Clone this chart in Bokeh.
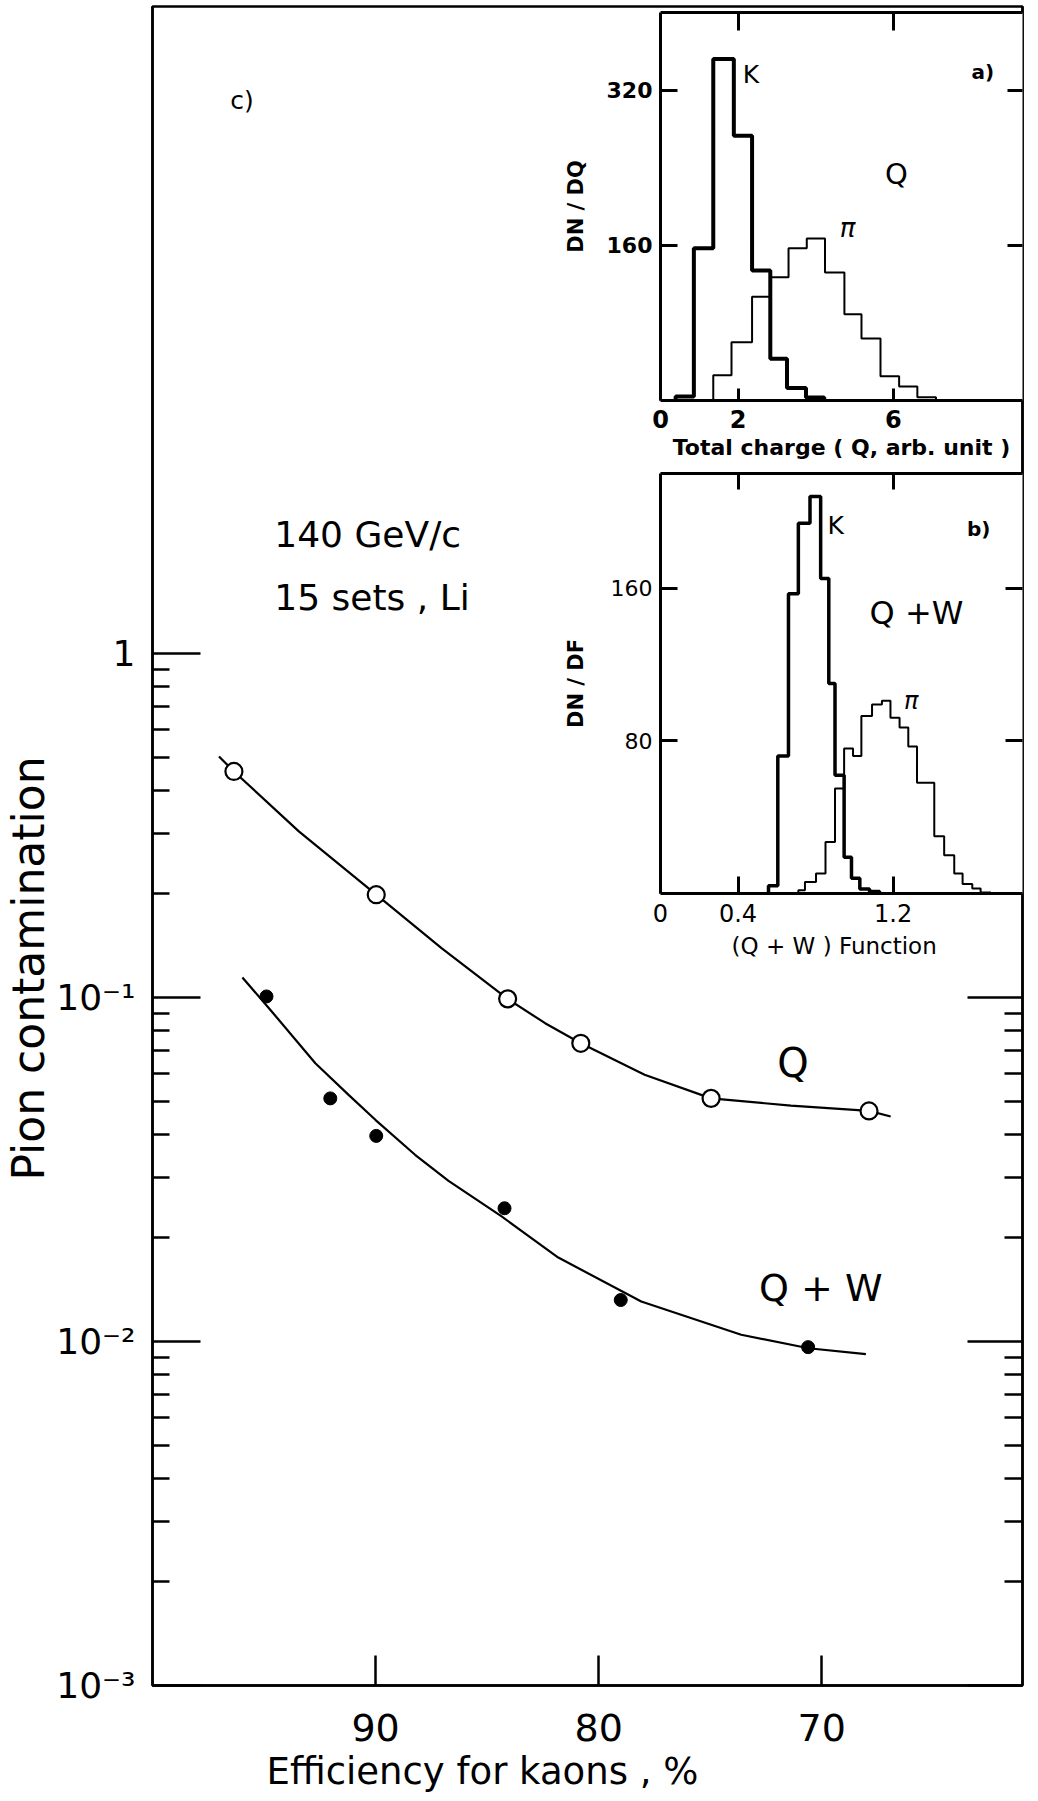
from bokeh.plotting import figure
from bokeh.models import Range1d, FixedTicker, CustomJSTickFormatter, LinearAxis, LogAxis, Title
from bokeh.layouts import column
from bokeh.embed import file_html
from bokeh.resources import INLINE
from bokeh.core.properties import value

FONT = "DejaVu Sans"

# ---------------- panel c) : pion contamination vs kaon efficiency ----------------
q_eff = [96.35, 89.97, 84.08, 80.80, 74.96, 67.88]
q_cont = [0.454, 0.199, 0.0991, 0.0736, 0.0509, 0.0468]
qw_eff = [94.89, 92.03, 89.97, 84.22, 79.01, 70.61]
qw_cont = [0.1007, 0.0509, 0.0396, 0.0244, 0.0132, 0.00963]

q_fit_eff = [97.02, 96.35, 93.44, 89.97, 87.03, 84.08, 82.40, 80.80, 77.94, 74.96, 71.38, 67.88, 66.91]
q_fit_cont = [0.502, 0.454, 0.304, 0.199, 0.139, 0.0991, 0.0842, 0.0736, 0.0596, 0.0509, 0.0485, 0.0468, 0.0451]
qw_fit_eff = [95.97, 94.78, 92.70, 91.21, 90.01, 88.23, 86.73, 84.35, 81.81, 78.09, 73.61, 70.59, 68.02]
qw_fit_cont = [0.1143, 0.0931, 0.0644, 0.0521, 0.0441, 0.0349, 0.0293, 0.0231, 0.01754, 0.01307,
               0.01046, 0.00956, 0.00919]

eff_ticks = [90, 80, 70]
cont_ticks = [0.001, 0.01, 0.1, 1]
cont_tick_labels = ["10\u207b\u00b3", "10\u207b\u00b2", "10\u207b\u00b9", "1"]

# ---------------- inset a) : total charge ----------------
a_k_edges = [0.39, 0.86, 1.36, 1.89, 2.36, 2.83, 3.26, 3.75, 4.22]
a_k_counts = [4, 157, 352, 273, 134, 43, 13, 3]
a_pi_edges = [1.36, 1.83, 2.36, 2.83, 3.30, 3.77, 4.24, 4.74, 5.18, 5.67, 6.15, 6.62, 7.10]
a_pi_counts = [26, 60, 107, 127, 157, 167, 132, 89, 64, 25, 14.5, 3.4]
a_x_ticks = [0, 2, 6]
a_y_ticks = [160, 320]

# ---------------- inset b) : (Q+W) function ----------------
b_k_edges = [0.557, 0.605, 0.660, 0.711, 0.771, 0.826, 0.868, 0.900, 0.947, 0.985, 1.028, 1.078, 1.130]
b_k_counts = [4, 72, 157, 194, 208, 165, 110, 62, 19, 8, 2.3, 1]
b_pi_edges = [0.711, 0.745, 0.802, 0.851, 0.900, 0.947, 0.993, 1.036, 1.091, 1.142, 1.186, 1.233,
              1.278, 1.323, 1.368, 1.412, 1.463, 1.515, 1.558, 1.608, 1.651, 1.703]
b_pi_counts = [1.7, 6, 10.5, 27, 55, 76, 72, 93, 99, 101, 92, 87, 77, 58, 58, 30, 20, 10.5, 5, 2.6, 0.5]
b_x_ticks = [0, 0.4, 1.2]
b_y_ticks = [80, 160]


def hist_outline(edges, counts):
    xs, ys = [edges[0]], [0]
    for i, c in enumerate(counts):
        xs += [edges[i], edges[i + 1]]
        ys += [c, c]
    xs.append(edges[-1])
    ys.append(0)
    return xs, ys


def blank():
    return CustomJSTickFormatter(code="return '';")


def style_axis(ax, tick_in, minor_in=0, lw=2.5, font_size="22px", bold=False, standoff=8):
    ax.major_tick_in = tick_in
    ax.major_tick_out = 0
    ax.minor_tick_in = minor_in
    ax.minor_tick_out = 0
    ax.axis_line_width = lw
    ax.axis_line_color = "black"
    ax.major_tick_line_width = lw
    ax.minor_tick_line_width = lw
    ax.major_label_text_font = FONT
    ax.major_label_text_font_size = font_size
    ax.major_label_text_font_style = "bold" if bold else "normal"
    ax.major_label_text_color = "black"
    ax.major_label_standoff = standoff
    ax.axis_label_text_font = FONT
    ax.axis_label_text_color = "black"


# ================= main figure =================
main = figure(width=1038, height=1801, x_range=Range1d(100, 61), y_range=Range1d(0.001, 76),
              y_axis_type="log", output_backend="svg", toolbar_location=None,
              min_border_left=150, min_border_right=16, min_border_top=6, min_border_bottom=116)
main.xgrid.visible = False
main.ygrid.visible = False
main.outline_line_color = "black"
main.outline_line_width = 2.5
main.outline_line_alpha = 1.0

minor_log = [k * 10.0 ** e for e in (-3, -2, -1) for k in range(2, 10)]

ly = main.yaxis[0]
ly.ticker = FixedTicker(ticks=cont_ticks, minor_ticks=minor_log)
ly.formatter = CustomJSTickFormatter(
    args=dict(vals=cont_ticks, labs=cont_tick_labels),
    code="for (let i = 0; i < vals.length; i++) {"
         " if (Math.abs(Math.log10(vals[i]) - Math.log10(tick)) < 1e-6) return labs[i]; }"
         " return '';")
style_axis(ly, 48, 17, font_size="36px", standoff=17)

bx = main.xaxis[0]
bx.ticker = FixedTicker(ticks=eff_ticks, minor_ticks=[])
style_axis(bx, 30, 0, font_size="38px", standoff=28)

ry = LogAxis(ticker=FixedTicker(ticks=[0.001, 0.01, 0.1],
                                minor_ticks=[k * 10.0 ** e for e in (-3, -2) for k in range(2, 10)]),
             formatter=blank())
style_axis(ry, 55, 18, standoff=0)
main.add_layout(ry, "right")

main.add_layout(Title(text="Pion contamination", align="left", offset=505, standoff=0,
                      text_font=FONT, text_font_size="44px", text_font_style="normal",
                      text_color="black"), "left")
main.add_layout(Title(text="Efficiency for kaons , %", align="left", offset=114, standoff=9,
                      text_font=FONT, text_font_size="37px", text_font_style="normal",
                      text_color="black"), "below")

main.line(q_fit_eff, q_fit_cont, line_color="black", line_width=2.2)
main.line(qw_fit_eff, qw_fit_cont, line_color="black", line_width=2.2)
main.scatter(q_eff, q_cont, size=17, marker="circle", fill_color="white", line_color="black", line_width=2.2)
main.scatter(qw_eff, qw_cont, size=13, marker="circle", fill_color="black", line_color="black")

main.text(x=[96.51], y=[40.5], text=["c)"], text_font=value(FONT), text_font_size="25px",
          text_align="left", text_baseline="middle", text_color="black")
main.text(x=[94.54, 94.54], y=[2.218, 1.455], text=["140 GeV/c", "15 sets , Li"], text_font=value(FONT),
          text_font_size="36px", text_align="left", text_baseline="middle", text_color="black")
main.text(x=[71.29], y=[0.0647], text=["Q"], text_font=value(FONT), text_font_size="40px",
          text_align="center", text_baseline="middle", text_color="black")
main.text(x=[70.04], y=[0.01426], text=["Q + W"], text_font=value(FONT), text_font_size="38px",
          text_align="center", text_baseline="middle", text_color="black")

# Column layouts align the left/right borders of their figures (main: 150 / 16 px),
# so each inset is shifted by its margin so that its frame starts at x = 658.
INSET_LEFT = 508
INSET_W = 1038 - INSET_LEFT

# ================= inset a) =================
ia = figure(width=INSET_W, height=465, x_range=Range1d(0, 9.33), y_range=Range1d(0, 400),
            output_backend="svg", toolbar_location=None,
            min_border_left=150, min_border_right=16, min_border_top=12, min_border_bottom=65,
            margin=(-1801, 0, 0, INSET_LEFT))
ia.xgrid.visible = False
ia.ygrid.visible = False
ia.outline_line_color = None
ia.border_fill_alpha = 0
ia.background_fill_color = "white"

ax_l = ia.yaxis[0]
ax_l.ticker = FixedTicker(ticks=a_y_ticks, minor_ticks=[])
style_axis(ax_l, 17, 0, lw=3, font_size="22px", bold=True, standoff=8)
ax_l.axis_label = "DN / DQ"
ax_l.axis_label_text_font_size = "21px"
ax_l.axis_label_text_font_style = "bold"
ax_l.axis_label_standoff = 16

ax_b = ia.xaxis[0]
ax_b.ticker = FixedTicker(ticks=a_x_ticks, minor_ticks=[])
style_axis(ax_b, 12, 0, lw=3, font_size="24px", bold=True, standoff=9)
ax_b.axis_label = "Total charge ( Q, arb. unit )"
ax_b.axis_label_text_font_size = "22px"
ax_b.axis_label_text_font_style = "bold"
ax_b.axis_label_standoff = 4

ax_t = LinearAxis(ticker=FixedTicker(ticks=[2, 6], minor_ticks=[]), formatter=blank())
style_axis(ax_t, 18, 0, lw=3, standoff=0)
ia.add_layout(ax_t, "above")
ax_r = LinearAxis(ticker=FixedTicker(ticks=a_y_ticks, minor_ticks=[]), formatter=blank())
style_axis(ax_r, 15, 0, lw=3, standoff=0)
ax_r.axis_line_color = None
ia.add_layout(ax_r, "right")

xs, ys = hist_outline(a_pi_edges, a_pi_counts)
ia.line(xs, ys, line_color="black", line_width=2)
xs, ys = hist_outline(a_k_edges, a_k_counts)
ia.line(xs, ys, line_color="black", line_width=4)

ia.text(x=[2.33], y=[336], text=["K"], text_font=value(FONT), text_font_size="25px",
        text_align="center", text_baseline="middle", text_color="black")
ia.text(x=[8.31], y=[339], text=["a)"], text_font=value(FONT), text_font_size="20px", text_font_style="bold",
        text_align="center", text_baseline="middle", text_color="black")
ia.text(x=[6.08], y=[233], text=["Q"], text_font=value(FONT), text_font_size="29px",
        text_align="center", text_baseline="middle", text_color="black")
ia.text(x=[4.82], y=[178], text=["\u03c0"], text_font=value(FONT), text_font_size="26px", text_font_style="italic",
        text_align="center", text_baseline="middle", text_color="black")

# ================= inset b) =================
ib = figure(width=INSET_W, height=510, x_range=Range1d(0, 1.867), y_range=Range1d(0, 220),
            output_backend="svg", toolbar_location=None,
            min_border_left=150, min_border_right=16, min_border_top=8, min_border_bottom=82,
            margin=(0, 0, 1801 - 975, INSET_LEFT))
ib.xgrid.visible = False
ib.ygrid.visible = False
ib.outline_line_color = None
ib.border_fill_alpha = 0
ib.background_fill_color = "white"

bx_l = ib.yaxis[0]
bx_l.ticker = FixedTicker(ticks=b_y_ticks, minor_ticks=[])
style_axis(bx_l, 17, 0, lw=3, font_size="22px", standoff=8)
bx_l.axis_label = "DN / DF"
bx_l.axis_label_text_font_size = "21px"
bx_l.axis_label_text_font_style = "bold"
bx_l.axis_label_standoff = 20

bx_b = ib.xaxis[0]
bx_b.ticker = FixedTicker(ticks=b_x_ticks, minor_ticks=[])
style_axis(bx_b, 17, 0, lw=3, font_size="24px", standoff=10)
bx_b.axis_label = "(Q + W )   Function"
bx_b.axis_label_text_font_size = "23px"
bx_b.axis_label_text_font_style = "normal"
bx_b.axis_label_standoff = 8

bx_t = LinearAxis(ticker=FixedTicker(ticks=[0.4, 1.2], minor_ticks=[]), formatter=blank())
style_axis(bx_t, 16, 0, lw=3, standoff=0)
ib.add_layout(bx_t, "above")
bx_r = LinearAxis(ticker=FixedTicker(ticks=b_y_ticks, minor_ticks=[]), formatter=blank())
style_axis(bx_r, 17, 0, lw=3, standoff=0)
bx_r.axis_line_color = None
ib.add_layout(bx_r, "right")

xs, ys = hist_outline(b_pi_edges, b_pi_counts)
ib.line(xs, ys, line_color="black", line_width=2)
xs, ys = hist_outline(b_k_edges, b_k_counts)
ib.line(xs, ys, line_color="black", line_width=3.5)

ib.text(x=[0.903], y=[193], text=["K"], text_font=value(FONT), text_font_size="25px",
        text_align="center", text_baseline="middle", text_color="black")
ib.text(x=[1.641], y=[191], text=["b)"], text_font=value(FONT), text_font_size="20px", text_font_style="bold",
        text_align="center", text_baseline="middle", text_color="black")
ib.text(x=[1.320], y=[147], text=["Q +W"], text_font=value(FONT), text_font_size="32px",
        text_align="center", text_baseline="middle", text_color="black")
ib.text(x=[1.293], y=[101], text=["\u03c0"], text_font=value(FONT), text_font_size="24px", text_font_style="italic",
        text_align="center", text_baseline="middle", text_color="black")

layout = column(main, ia, ib, spacing=0)
open("out.html", "w").write(file_html(layout, INLINE))
